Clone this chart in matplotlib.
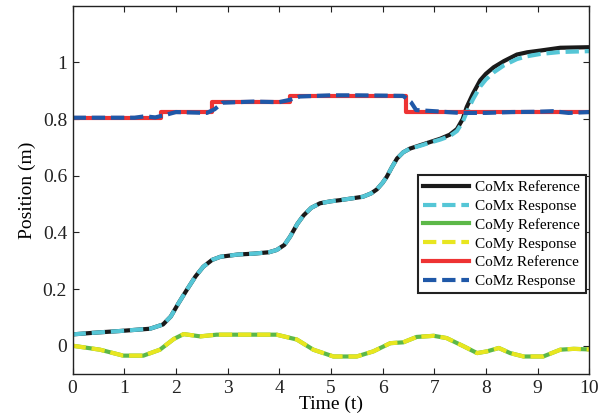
import matplotlib
matplotlib.use("Agg")
import matplotlib.pyplot as plt

# ---- data ----
t_x = [0, 0.5, 0.92, 1.5, 1.75, 1.9, 2.05, 2.21, 2.38, 2.53, 2.7, 2.86, 3.2, 3.5, 3.8, 3.95,
       4.1, 4.21, 4.35, 4.47, 4.62, 4.79, 5.0, 5.18, 5.4, 5.62, 5.78, 5.89, 6.0, 6.08, 6.18,
       6.28, 6.4, 6.53, 6.73, 6.9, 7.12, 7.3, 7.44, 7.55, 7.63, 7.75, 7.89, 8.0, 8.15, 8.35,
       8.6, 8.8, 9.05, 9.44, 10]
comx_ref = [0.040, 0.047, 0.052, 0.060, 0.075, 0.103, 0.150, 0.197, 0.245, 0.279, 0.303, 0.314,
            0.322, 0.325, 0.330, 0.338, 0.356, 0.385, 0.430, 0.460, 0.487, 0.503, 0.510, 0.514,
            0.520, 0.526, 0.538, 0.552, 0.575, 0.596, 0.630, 0.661, 0.683, 0.696, 0.708, 0.718,
            0.731, 0.745, 0.765, 0.800, 0.843, 0.890, 0.937, 0.960, 0.983, 1.005, 1.028, 1.036,
            1.042, 1.052, 1.054]
comx_resp = [0.040, 0.047, 0.052, 0.060, 0.075, 0.103, 0.150, 0.197, 0.245, 0.279, 0.303, 0.314,
             0.322, 0.325, 0.330, 0.338, 0.356, 0.385, 0.430, 0.460, 0.487, 0.503, 0.510, 0.514,
             0.520, 0.526, 0.538, 0.552, 0.575, 0.596, 0.630, 0.661, 0.683, 0.696, 0.706, 0.716,
             0.728, 0.740, 0.758, 0.790, 0.825, 0.870, 0.915, 0.940, 0.965, 0.990, 1.012, 1.022,
             1.030, 1.037, 1.040]

t_y = [0, 0.53, 0.98, 1.37, 1.69, 1.96, 2.15, 2.47, 2.79, 3.44, 3.95, 4.34, 4.66, 5.05, 5.5,
       5.82, 6.15, 6.4, 6.66, 6.99, 7.24, 7.57, 7.83, 8.02, 8.25, 8.47, 8.73, 9.11, 9.44, 9.7, 10]
comy_ref = [0.0, -0.014, -0.035, -0.035, -0.014, 0.024, 0.041, 0.033, 0.039, 0.039, 0.039, 0.022,
            -0.014, -0.038, -0.038, -0.020, 0.009, 0.012, 0.031, 0.035, 0.027, -0.002, -0.026,
            -0.020, -0.008, -0.026, -0.038, -0.038, -0.014, -0.011, -0.013]
comy_resp = list(comy_ref)

t_zref = [0, 1.72, 2.70, 4.21, 6.46, 10]
comz_ref = [0.805, 0.825, 0.862, 0.882, 0.825, 0.825]

t_zresp = [0, 1.2, 1.4, 1.6, 1.8, 2.0, 2.6, 2.75, 2.9, 3.5, 4.0, 4.2, 4.4, 5.0, 5.5, 6.0, 6.4,
           6.55, 6.65, 7.0, 7.5, 8.0, 8.5, 9.0, 9.3, 9.6, 10]
comz_resp = [0.805, 0.805, 0.810, 0.806, 0.815, 0.825, 0.822, 0.835, 0.858, 0.862, 0.860, 0.868,
             0.880, 0.884, 0.884, 0.883, 0.882, 0.860, 0.832, 0.828, 0.822, 0.822, 0.825, 0.826,
             0.828, 0.822, 0.825]

x_ticks = list(range(0, 11))
y_ticks = [0, 0.2, 0.4, 0.6, 0.8, 1]
y_ticklabels = ["0", "0.2", "0.4", "0.6", "0.8", "1"]

# ---- plot ----
plt.rcParams['font.family'] = ['Liberation Serif', 'DejaVu Serif']

fig = plt.figure(figsize=(6.0, 4.17), dpi=100)
ax = fig.add_axes([0.121, 0.103, 0.861, 0.883])

lw = 3.0
dash = (3.2, 1.4)
ax.plot(t_x, comx_ref, color='#1a1a1a', lw=lw, label='CoMx Reference')
ax.plot(t_x, comx_resp, color='#55c6d6', lw=lw, dashes=dash, label='CoMx Response')
ax.plot(t_y, comy_ref, color='#5cb848', lw=lw, label='CoMy Reference')
ax.plot(t_y, comy_resp, color='#e8e620', lw=lw, dashes=dash, label='CoMy Response')
ax.plot(t_zref, comz_ref, color='#ee3333', lw=lw, drawstyle='steps-post', label='CoMz Reference')
ax.plot(t_zresp, comz_resp, color='#1f58a8', lw=lw, dashes=dash, label='CoMz Response')

ax.set_xlim(0, 10)
ax.set_ylim(-0.1, 1.2)
ax.set_xticks(x_ticks)
ax.set_yticks(y_ticks)
ax.set_yticklabels(y_ticklabels)
ax.tick_params(direction='in', top=True, right=True, length=4, width=0.8,
               labelsize=14, colors='#222222', pad=4)
for s in ax.spines.values():
    s.set_linewidth(1.0)
    s.set_color('#222222')

ax.set_xlabel('Time (t)', fontsize=14, labelpad=-1)
ax.set_ylabel('Position (m)', fontsize=14, labelpad=5)

leg = ax.legend(loc='upper right', bbox_to_anchor=(0.993, 0.54), fontsize=11,
                frameon=True, fancybox=False, framealpha=1, edgecolor='#222222',
                handlelength=3.0, handletextpad=0.4, labelspacing=0.33,
                borderpad=0.35, borderaxespad=0)
leg.get_frame().set_linewidth(1.5)

fig.savefig('out.png', dpi=100)
